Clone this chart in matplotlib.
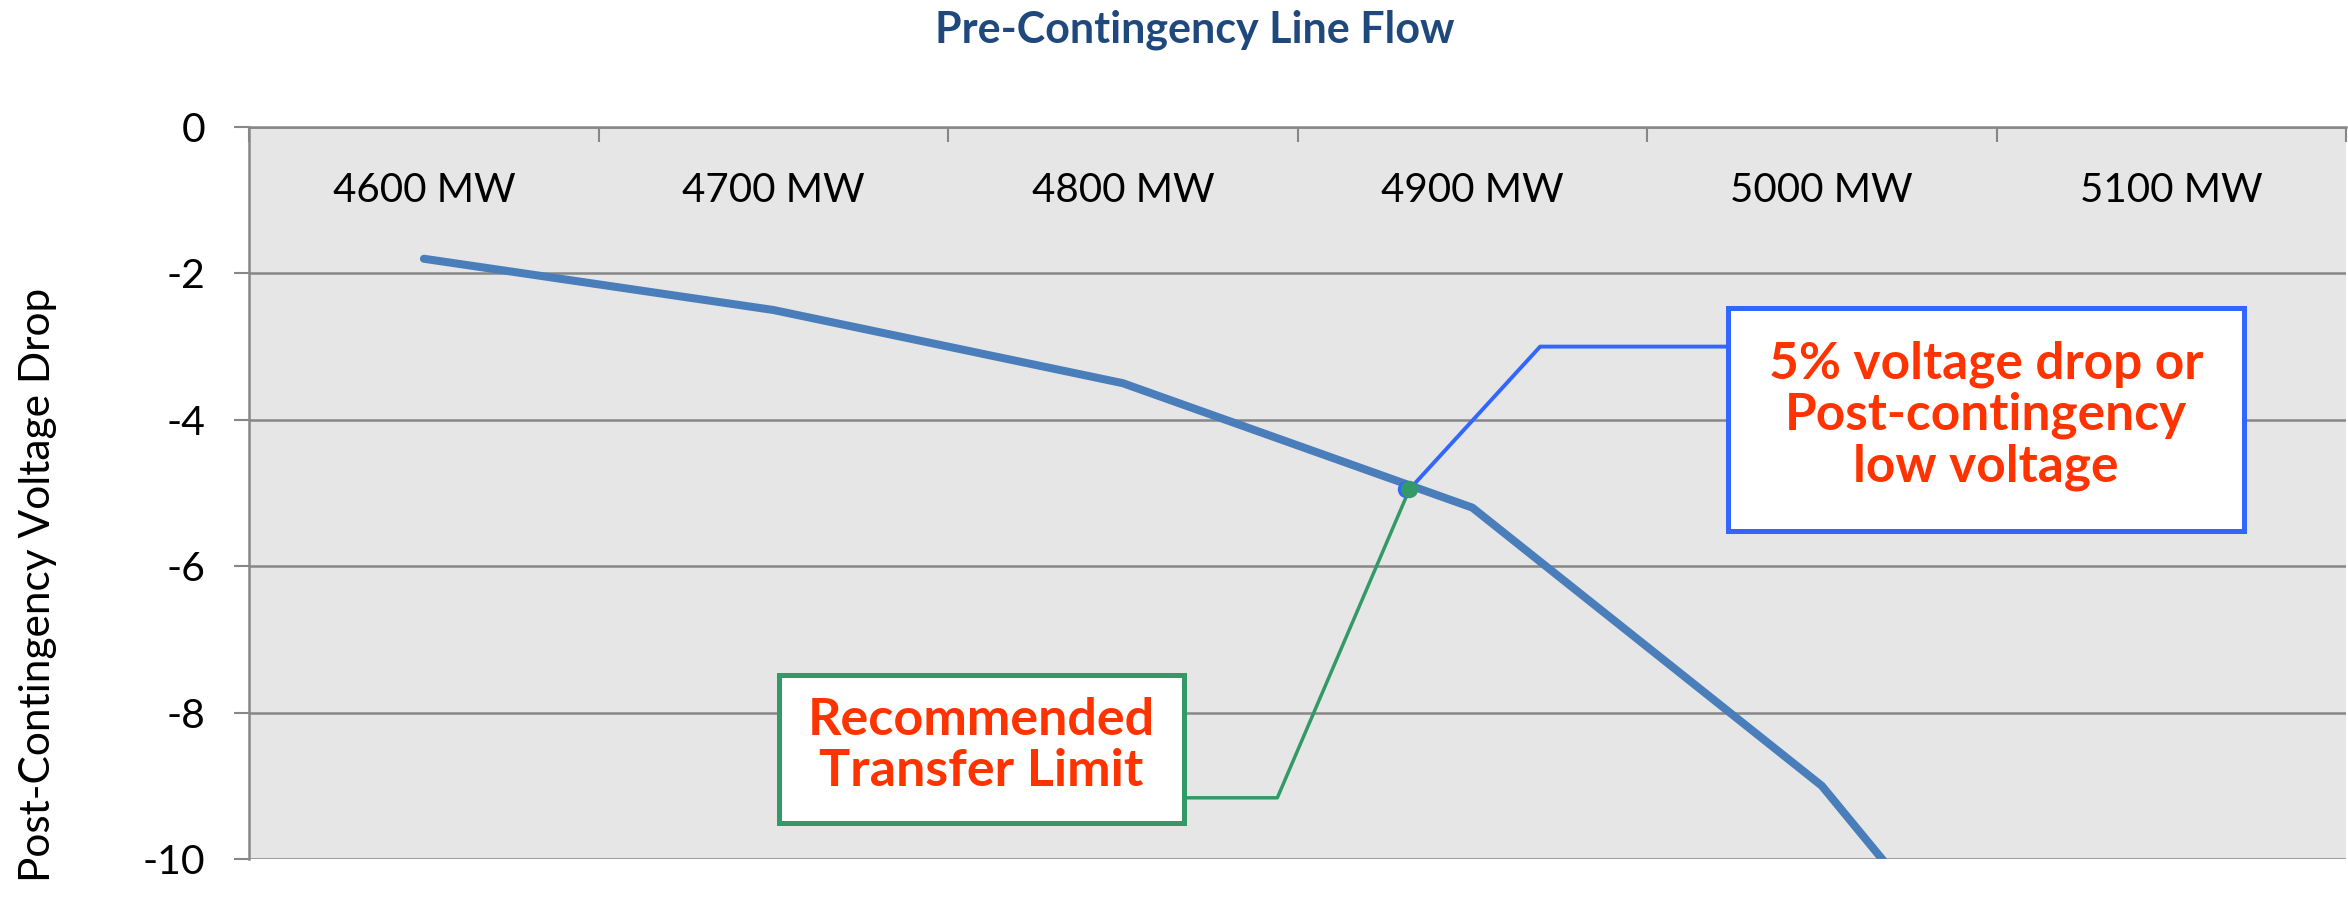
import matplotlib
matplotlib.use("Agg")
import matplotlib.pyplot as plt
from matplotlib.patches import Rectangle

# data
flows = ['4600 MW', '4700 MW', '4800 MW', '4900 MW', '5000 MW', '5100 MW']
voltage_drop = [-1.8, -2.5, -3.5, -5.2, -9.0, -14.8]
yticks = [0, -2, -4, -6, -8, -10]

limit_flow = 4882      # MW, where the 5% drop is reached
limit_drop = -4.95

font = ['Lato', 'DejaVu Sans']
grid_c = '#878787'
line_c = '#4a7ebb'
green = '#339966'
blue = '#3366ff'
red = '#ff3300'

fig = plt.figure(figsize=(23.48, 9), dpi=100)
ax = fig.add_axes([249.2 / 2348, 1 - 859 / 900, (2346 - 249.2) / 2348, 732 / 900])
ax.set_facecolor('#e6e6e6')

x = list(range(len(flows)))
ax.plot(x, voltage_drop, color=line_c, lw=5.8, solid_capstyle='round',
        solid_joinstyle='round', zorder=3)

ax.set_xlim(-0.5, len(flows) - 0.5)
ax.set_ylim(-10, 0)

# category axis on top (crosses at 0), tick marks at category borders
ax.xaxis.tick_top()
ax.set_xticks([i - 0.5 for i in range(len(flows) + 1)])
ax.set_xticklabels([])
ax.tick_params(axis='x', direction='in', length=10.8, width=1.5, color=grid_c)
for i, lab in enumerate(flows):
    ax.text(i, 0.8975, lab, transform=ax.get_xaxis_transform(), ha='center',
            va='baseline', fontsize=29, family=font, color='black')

ax.set_yticks(yticks)
ax.set_yticklabels([str(v) for v in yticks], family=font, fontsize=29.5)
ax.tick_params(axis='y', direction='out', length=10.8, width=1.5, color=grid_c, pad=21)
ax.yaxis.grid(True, color=grid_c, lw=1.8)
ax.set_axisbelow(True)
for s in ['right', 'bottom']:
    ax.spines[s].set_visible(False)
for s in ['left', 'top']:
    ax.spines[s].set_color(grid_c)
    ax.spines[s].set_linewidth(1.8)

fig.text(1195 / 2348, 1 - 10 / 900, 'Pre-Contingency Line Flow', ha='center', va='top',
         fontsize=31, fontweight='bold', family=font, color='#1f497d')
fig.text(38 / 2348, 1 - 288 / 900, 'Post-Contingency Voltage Drop', rotation=90,
         ha='center', va='top', fontsize=30.5, family=font, color='black')

# callouts
px = (limit_flow - 4600) / 100.0
py = limit_drop

ax.plot([3.731, 3.194, px], [-3.0, -3.0, py], color=blue, lw=2.8, zorder=4, clip_on=False)
ax.plot([2.176, 2.442, px], [-9.164, -9.164, py], color=green, lw=2.5, zorder=4, clip_on=False)
ax.plot([px - 0.01], [py], 'o', color=blue, ms=11.5, zorder=5)
ax.plot([px], [py], 'o', color=green, ms=11.5, zorder=6)

ax.add_patch(Rectangle((3.731, -5.519), 5.208 - 3.731, 5.519 - 2.469, facecolor='white',
                       edgecolor=blue, lw=3.6, zorder=7, clip_on=False))
ax.text((3.731 + 5.208) / 2, (-5.519 - 2.469) / 2 + 0.05,
        '5% voltage drop or\nPost-contingency\nlow voltage', ha='center', va='center',
        fontsize=37, fontweight='bold', family=font, color=red, zorder=8,
        linespacing=1.1)

ax.add_patch(Rectangle((1.016, -9.508), 2.176 - 1.016, 9.508 - 7.486, facecolor='white',
                       edgecolor=green, lw=3.6, zorder=7, clip_on=False))
ax.text((1.016 + 2.176) / 2, (-9.508 - 7.486) / 2 + 0.04,
        'Recommended\nTransfer Limit', ha='center', va='center',
        fontsize=37.5, fontweight='bold', family=font, color=red, zorder=8,
        linespacing=1.1)

fig.savefig('out.png', dpi=100)
